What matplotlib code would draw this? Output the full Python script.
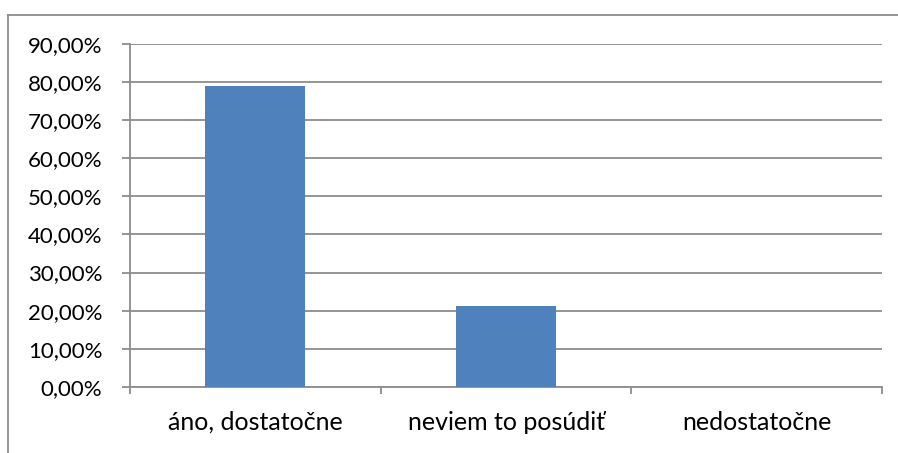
import matplotlib
matplotlib.use("Agg")
import matplotlib.pyplot as plt
from matplotlib.ticker import FuncFormatter, FixedLocator
from matplotlib.lines import Line2D

categories = ["áno, dostatočne", "neviem to posúdiť", "nedostatočne"]
values = [78.85, 21.15, 0.0]
yticks = [0, 10, 20, 30, 40, 50, 60, 70, 80, 90]

W, H = 898, 453
fig = plt.figure(figsize=(W / 100, H / 100), dpi=100)
plt.rcParams['font.family'] = ['Lato', 'DejaVu Sans']

ax = fig.add_axes([130 / W, 1 - 387 / H, (882 - 130) / W, (387 - 43.7) / H])
ax.bar(range(len(categories)), values, width=0.4, color="#4F81BD", zorder=3)

ax.set_xlim(-0.5, len(categories) - 0.5)
ax.set_ylim(0, 90)
ax.set_yticks(yticks)
ax.yaxis.set_major_formatter(FuncFormatter(lambda v, p: f"{v:.2f}".replace(".", ",") + "%"))
ax.grid(axis="y", color="#8c8c8c", linewidth=1.3, zorder=0)
ax.set_axisbelow(True)

ax.set_xticks(range(len(categories)))
ax.set_xticklabels(categories)
ax.xaxis.set_minor_locator(FixedLocator([-0.5, 0.5, 1.5, 2.5]))
ax.tick_params(axis="x", which="major", length=0, pad=17, labelsize=18, labelcolor="#000000")
ax.tick_params(axis="x", which="minor", length=5, width=1.3, color="#8c8c8c", direction="out")
ax.tick_params(axis="y", length=6, width=1.3, color="#8c8c8c", pad=14, labelsize=16, labelcolor="#000000")

for s in ["top", "right"]:
    ax.spines[s].set_visible(False)
for s in ["left", "bottom"]:
    ax.spines[s].set_color("#8c8c8c")
    ax.spines[s].set_linewidth(1.3)

# outer chart border (partially visible)
fig.add_artist(Line2D([8 / W, 8 / W], [0, 1 - 15 / H], transform=fig.transFigure, color="#8c8c8c", linewidth=1.3))
fig.add_artist(Line2D([8 / W, 1], [1 - 15 / H, 1 - 15 / H], transform=fig.transFigure, color="#8c8c8c", linewidth=1.3))

fig.savefig("out.png", dpi=100)
